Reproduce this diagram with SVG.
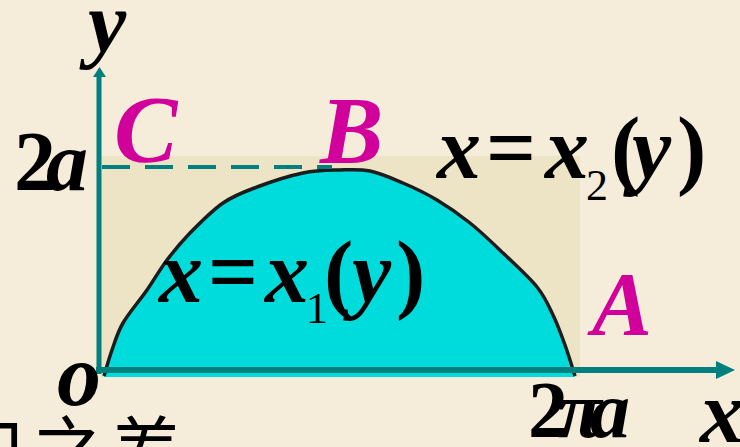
<svg xmlns="http://www.w3.org/2000/svg" width="740" height="447" viewBox="0 0 740 447">
<style>
.m{fill:#d1009a}
.ax{stroke:#007f7f;fill:none}
</style>
<rect width="740" height="447" fill="#f5edda"/>
<g id="region">
<rect x="101" y="156" width="479" height="221" fill="#ece4c4"/>
<path id="arch-fill" fill="#00dcdc" d="M104,376 C105.3,371.7 108.8,358.8 112,350 C115.2,341.2 117.2,333 123,323 C128.8,313 139.7,300.5 147,290 C154.3,279.5 159.8,269.5 167,260 C174.2,250.5 180.7,242.5 190,233 C199.3,223.5 211.8,210.7 223,203 C234.2,195.3 243.7,192 257,187 C270.3,182 289.3,175.8 303,173 C316.7,170.2 327.8,170.3 339,170 C350.2,169.7 359.3,168.8 370,171 C380.7,173.2 391.8,178.2 403,183 C414.2,187.8 425.8,193.3 437,200 C448.2,206.7 459,214.2 470,223 C481,231.8 491.8,242.3 503,253 C514.2,263.7 528.7,276.7 537,287 C545.3,297.3 548.3,305.3 553,315 C557.7,324.7 561.3,334.8 565,345 C568.7,355.2 573.3,370.8 575,376 L575,377 L104,377 Z"/>
<path id="arch-outline" fill="none" stroke="#1c1c1c" stroke-width="3.5" d="M104,376 C105.3,371.7 108.8,358.8 112,350 C115.2,341.2 117.2,333 123,323 C128.8,313 139.7,300.5 147,290 C154.3,279.5 159.8,269.5 167,260 C174.2,250.5 180.7,242.5 190,233 C199.3,223.5 211.8,210.7 223,203 C234.2,195.3 243.7,192 257,187 C270.3,182 289.3,175.8 303,173 C316.7,170.2 327.8,170.3 339,170 C350.2,169.7 359.3,168.8 370,171 C380.7,173.2 391.8,178.2 403,183 C414.2,187.8 425.8,193.3 437,200 C448.2,206.7 459,214.2 470,223 C481,231.8 491.8,242.3 503,253 C514.2,263.7 528.7,276.7 537,287 C545.3,297.3 548.3,305.3 553,315 C557.7,324.7 561.3,334.8 565,345 C568.7,355.2 573.3,370.8 575,376"/>
</g>
<g id="connectors">
<line class="ax" x1="102" y1="167" x2="332" y2="167" stroke-width="4" stroke-dasharray="28 15"/>
<line class="ax" x1="99" y1="374" x2="99" y2="74" stroke-width="5"/>
<polygon points="93,77 99.5,67 106,77" fill="#007f7f"/>
<line class="ax" x1="96" y1="370" x2="718" y2="370" stroke-width="6"/>
<polygon points="716,361 735,370 716,379" fill="#007f7f"/>
</g>
<g id="labels" font-family="Liberation Serif" font-weight="bold" fill="#000">
<text x="88" y="51" font-size="86" font-style="italic">y</text>
<text y="190" font-size="84"><tspan x="14">2</tspan><tspan x="46" font-style="italic">a</tspan></text>
<text class="m" x="114" y="162" font-size="95" font-style="italic">C</text>
<text class="m" x="320" y="163" font-size="95" font-style="italic">B</text>
<text class="m" x="592" y="335" font-size="90" font-style="italic">A</text>
<text x="57" y="405" font-size="88" font-style="italic">o</text>
<text y="437" font-size="80"><tspan x="528">2</tspan><tspan x="558" font-style="italic">π</tspan><tspan x="590" font-style="italic">a</tspan></text>
<text x="700" y="442" font-size="88" font-style="italic">x</text>
</g>
<g id="eq2" font-family="Liberation Serif" font-weight="bold" fill="#000">
<text y="178" font-size="88"><tspan x="437" font-style="italic">x</tspan><tspan x="486">=</tspan><tspan x="545" font-style="italic">x</tspan><tspan x="586" y="200" font-size="44" font-weight="normal">2</tspan><tspan x="611" y="178">(</tspan><tspan x="632" font-style="italic">y</tspan><tspan x="677">)</tspan></text>
</g>
<g id="eq1" font-family="Liberation Serif" font-weight="bold" fill="#000">
<text y="302" font-size="88"><tspan x="159" font-style="italic">x</tspan><tspan x="208">=</tspan><tspan x="265" font-style="italic">x</tspan><tspan x="306" y="323" font-size="44" font-weight="normal">1</tspan><tspan x="324" y="302">(</tspan><tspan x="352" font-style="italic">y</tspan><tspan x="396">)</tspan></text>
</g>
<g id="caption" font-family="Noto Sans CJK SC, sans-serif" fill="#000">
<text y="476" font-size="72"><tspan x="-46">口</tspan><tspan x="32">之</tspan><tspan x="110">差</tspan></text>
</g>
</svg>
